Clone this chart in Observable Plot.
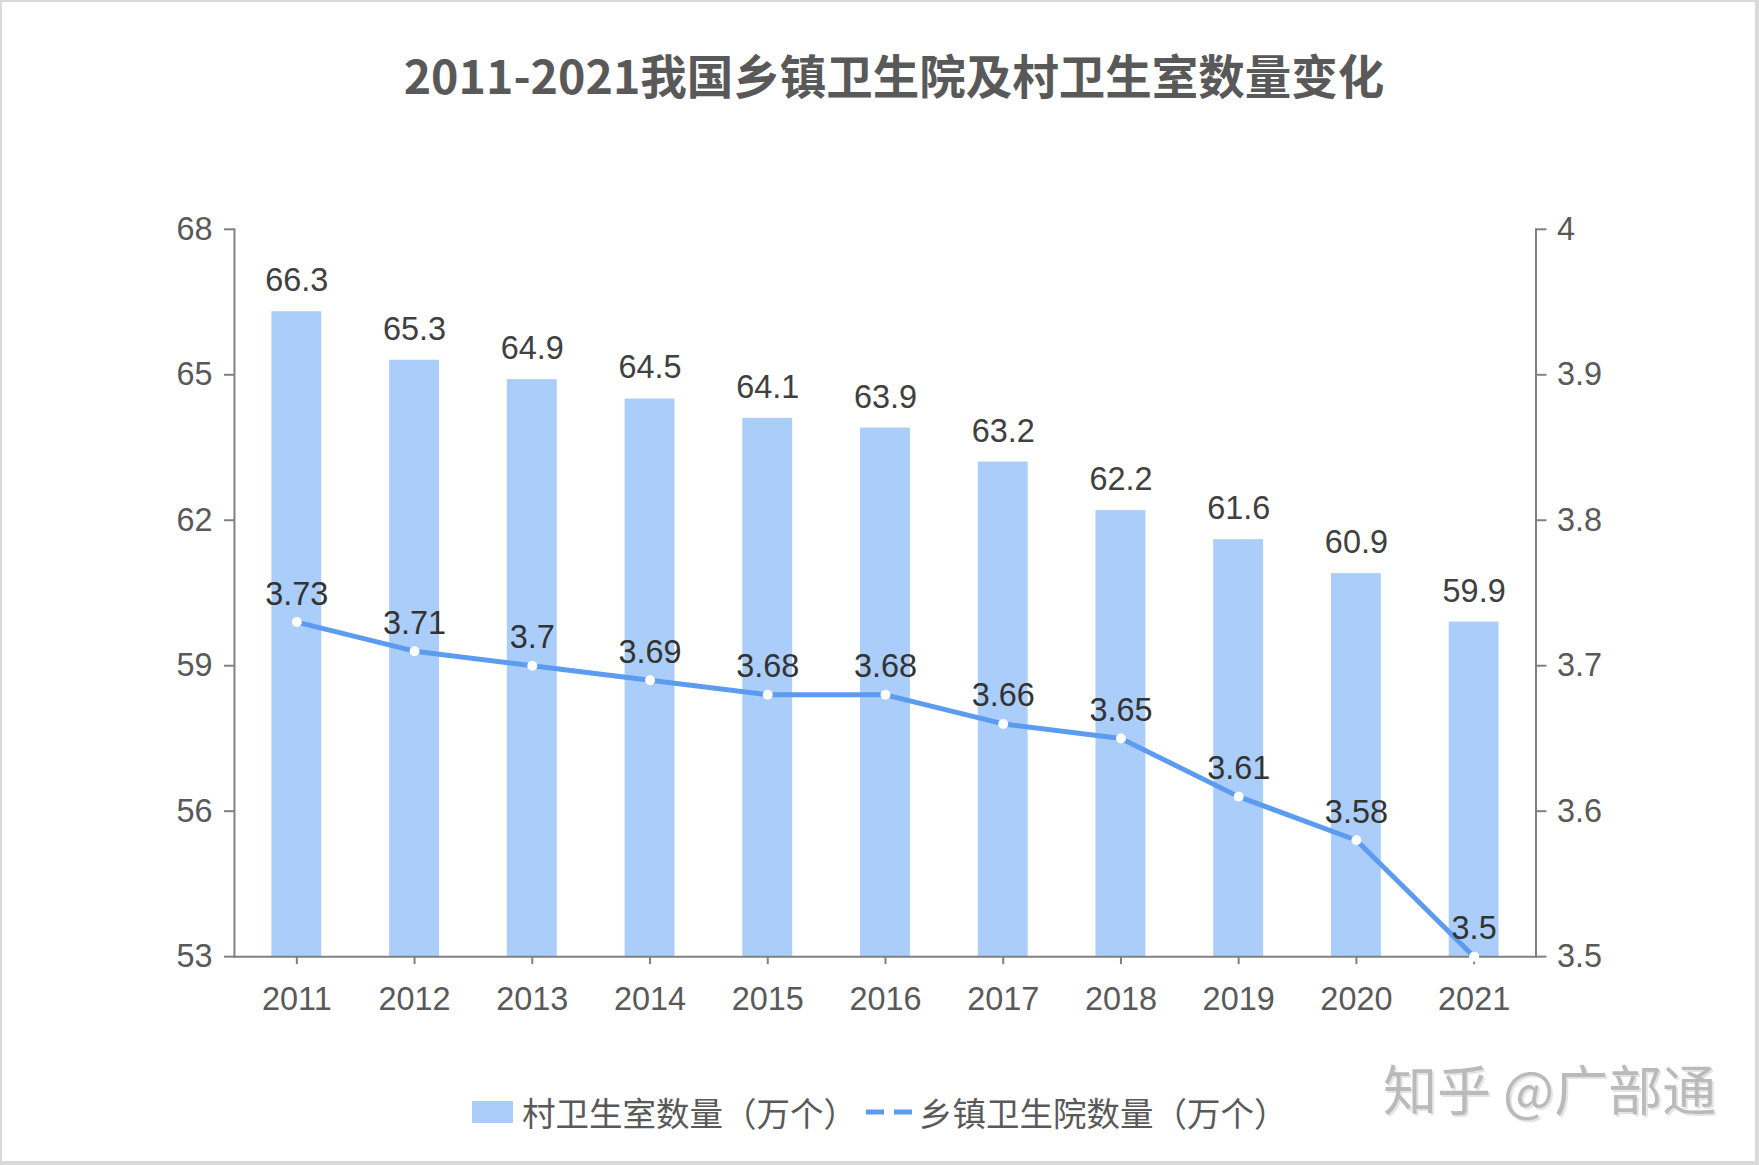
<!DOCTYPE html>
<html>
<head>
<meta charset="utf-8">
<script src="https://cdn.jsdelivr.net/npm/d3@7"></script>
<script src="https://cdn.jsdelivr.net/npm/@observablehq/plot@0.6"></script>
<style>
  html, body { margin: 0; padding: 0; background: #fff; }
  #frame { position: relative; width: 1759px; height: 1165px; box-sizing: border-box;
           border-style: solid; border-color: #dadada; border-width: 2px 4px 4px 2px; overflow: hidden; background: #fff; }
  #title { position: absolute; left: 892px; top: 42px; transform: translateX(-50%); white-space: nowrap;
           font-family: "Noto Sans CJK SC", sans-serif; font-weight: 700; font-size: 46.5px; line-height: 60px; color: #595959; }
  #chart { position: absolute; left: -4px; top: 146px; }
  .leg { position: absolute; font-family: "Noto Sans CJK SC", sans-serif; font-size: 33.5px; line-height: 40px; color: #595959; white-space: nowrap; }
  #wm { position: absolute; left: 1381px; top: 1054px; font-family: "Noto Sans CJK SC", sans-serif; font-size: 54px; line-height: 64px;
        color: #bababa; text-shadow: 2px 2px 0 #e4e4e4; white-space: nowrap; }
</style>
</head>
<body>
<div id="frame">
  <div id="title"></div>
  <div id="chart"></div>
  <div id="legend"></div>
  <div id="wm"></div>
</div>
<script>
const titleText = "2011-2021我国乡镇卫生院及村卫生室数量变化";
const years = ["2011","2012","2013","2014","2015","2016","2017","2018","2019","2020","2021"];
const villageClinics = [66.3, 65.3, 64.9, 64.5, 64.1, 63.9, 63.2, 62.2, 61.6, 60.9, 59.9];
const townshipHospitals = [3.73, 3.71, 3.7, 3.69, 3.68, 3.68, 3.66, 3.65, 3.61, 3.58, 3.5];
const leftTicks = [53, 56, 59, 62, 65, 68];
const rightTicks = [3.5, 3.6, 3.7, 3.8, 3.9, 4];
const seriesNames = ["村卫生室数量（万个）", "乡镇卫生院数量（万个）"];
const watermark = "知乎 @广部通";

const barColor = "#abcdf9";
const lineColor = "#5b9cf0";
const leftDomain = [53, 68];
const rightDomain = [3.5, 4];
const toLeft = v => leftDomain[0] + (v - rightDomain[0]) * (leftDomain[1] - leftDomain[0]) / (rightDomain[1] - rightDomain[0]);
const toRight = v => rightDomain[0] + (v - leftDomain[0]) * (rightDomain[1] - rightDomain[0]) / (leftDomain[1] - leftDomain[0]);

const data = years.map((y, i) => ({year: y, v: villageClinics[i], w: townshipHospitals[i]}));

document.getElementById("title").textContent = titleText;
document.getElementById("wm").textContent = watermark;

const font = "'Liberation Sans', Arial, sans-serif";
const axisColor = "#808080";
const tickText = "#595959";

const chart = Plot.plot({
  width: 1761,
  height: 890,
  marginLeft: 236.5,
  marginRight: 220,
  marginTop: 81,
  marginBottom: 80,
  style: {fontFamily: font, fontSize: "32px", background: "transparent"},
  x: {domain: years, paddingInner: 0.573, paddingOuter: 0.2865},
  y: {domain: leftDomain},
  marks: [
    Plot.barY(data, {x: "year", y1: leftDomain[0], y2: "v", fill: barColor}),
    Plot.frame({anchor: "left", stroke: axisColor, strokeWidth: 2}),
    Plot.frame({anchor: "right", stroke: axisColor, strokeWidth: 2}),
    Plot.frame({anchor: "bottom", stroke: axisColor, strokeWidth: 2}),
    Plot.axisY({anchor: "left", ticks: leftTicks, tickSize: 10, tickPadding: 12, fontSize: 32.5,
                stroke: axisColor, strokeWidth: 2, fill: tickText, label: null}),
    Plot.axisY({anchor: "right", ticks: rightTicks.map(toLeft), tickFormat: v => String(+toRight(v).toFixed(2)),
                tickSize: 10, tickPadding: 11, fontSize: 32.5, stroke: axisColor, strokeWidth: 2, fill: tickText, label: null}),
    Plot.axisX({anchor: "bottom", tickSize: 8, tickPadding: 22, fontSize: 32.5, stroke: axisColor, strokeWidth: 2, fill: tickText, label: null}),
    Plot.text(data, {x: "year", y: "v", text: d => String(d.v), dy: -31, fontSize: 32.5, fill: "#404040"}),
    Plot.line(data, {x: "year", y: d => toLeft(d.w), stroke: lineColor, strokeWidth: 5, strokeLinejoin: "round"}),
    Plot.dot(data, {x: "year", y: d => toLeft(d.w), r: 5, fill: "white", stroke: null}),
    Plot.text(data, {x: "year", y: d => toLeft(d.w), text: d => String(d.w), dy: -28, fontSize: 32.5, fill: "#333333"})
  ]
});
document.getElementById("chart").appendChild(chart);

// Legend
const legend = document.getElementById("legend");
const sw = document.createElement("div");
sw.style.cssText = `position:absolute;left:470px;top:1099px;width:41px;height:22px;background:${barColor};`;
legend.appendChild(sw);
const t1 = document.createElement("div");
t1.className = "leg"; t1.style.left = "520px"; t1.style.top = "1090px"; t1.textContent = seriesNames[0];
legend.appendChild(t1);
const ls = document.createElementNS("http://www.w3.org/2000/svg", "svg");
ls.setAttribute("width", "48"); ls.setAttribute("height", "10");
ls.style.cssText = "position:absolute;left:863px;top:1105px;";
const ln = document.createElementNS("http://www.w3.org/2000/svg", "line");
ln.setAttribute("x1", "1"); ln.setAttribute("x2", "47"); ln.setAttribute("y1", "5"); ln.setAttribute("y2", "5");
ln.setAttribute("stroke", lineColor); ln.setAttribute("stroke-width", "5");
ln.setAttribute("stroke-dasharray", "18 10"); ln.setAttribute("stroke-linecap", "butt");
ls.appendChild(ln);
legend.appendChild(ls);
const t2 = document.createElement("div");
t2.className = "leg"; t2.style.left = "917px"; t2.style.top = "1090px"; t2.textContent = seriesNames[1];
legend.appendChild(t2);
</script>
</body>
</html>
